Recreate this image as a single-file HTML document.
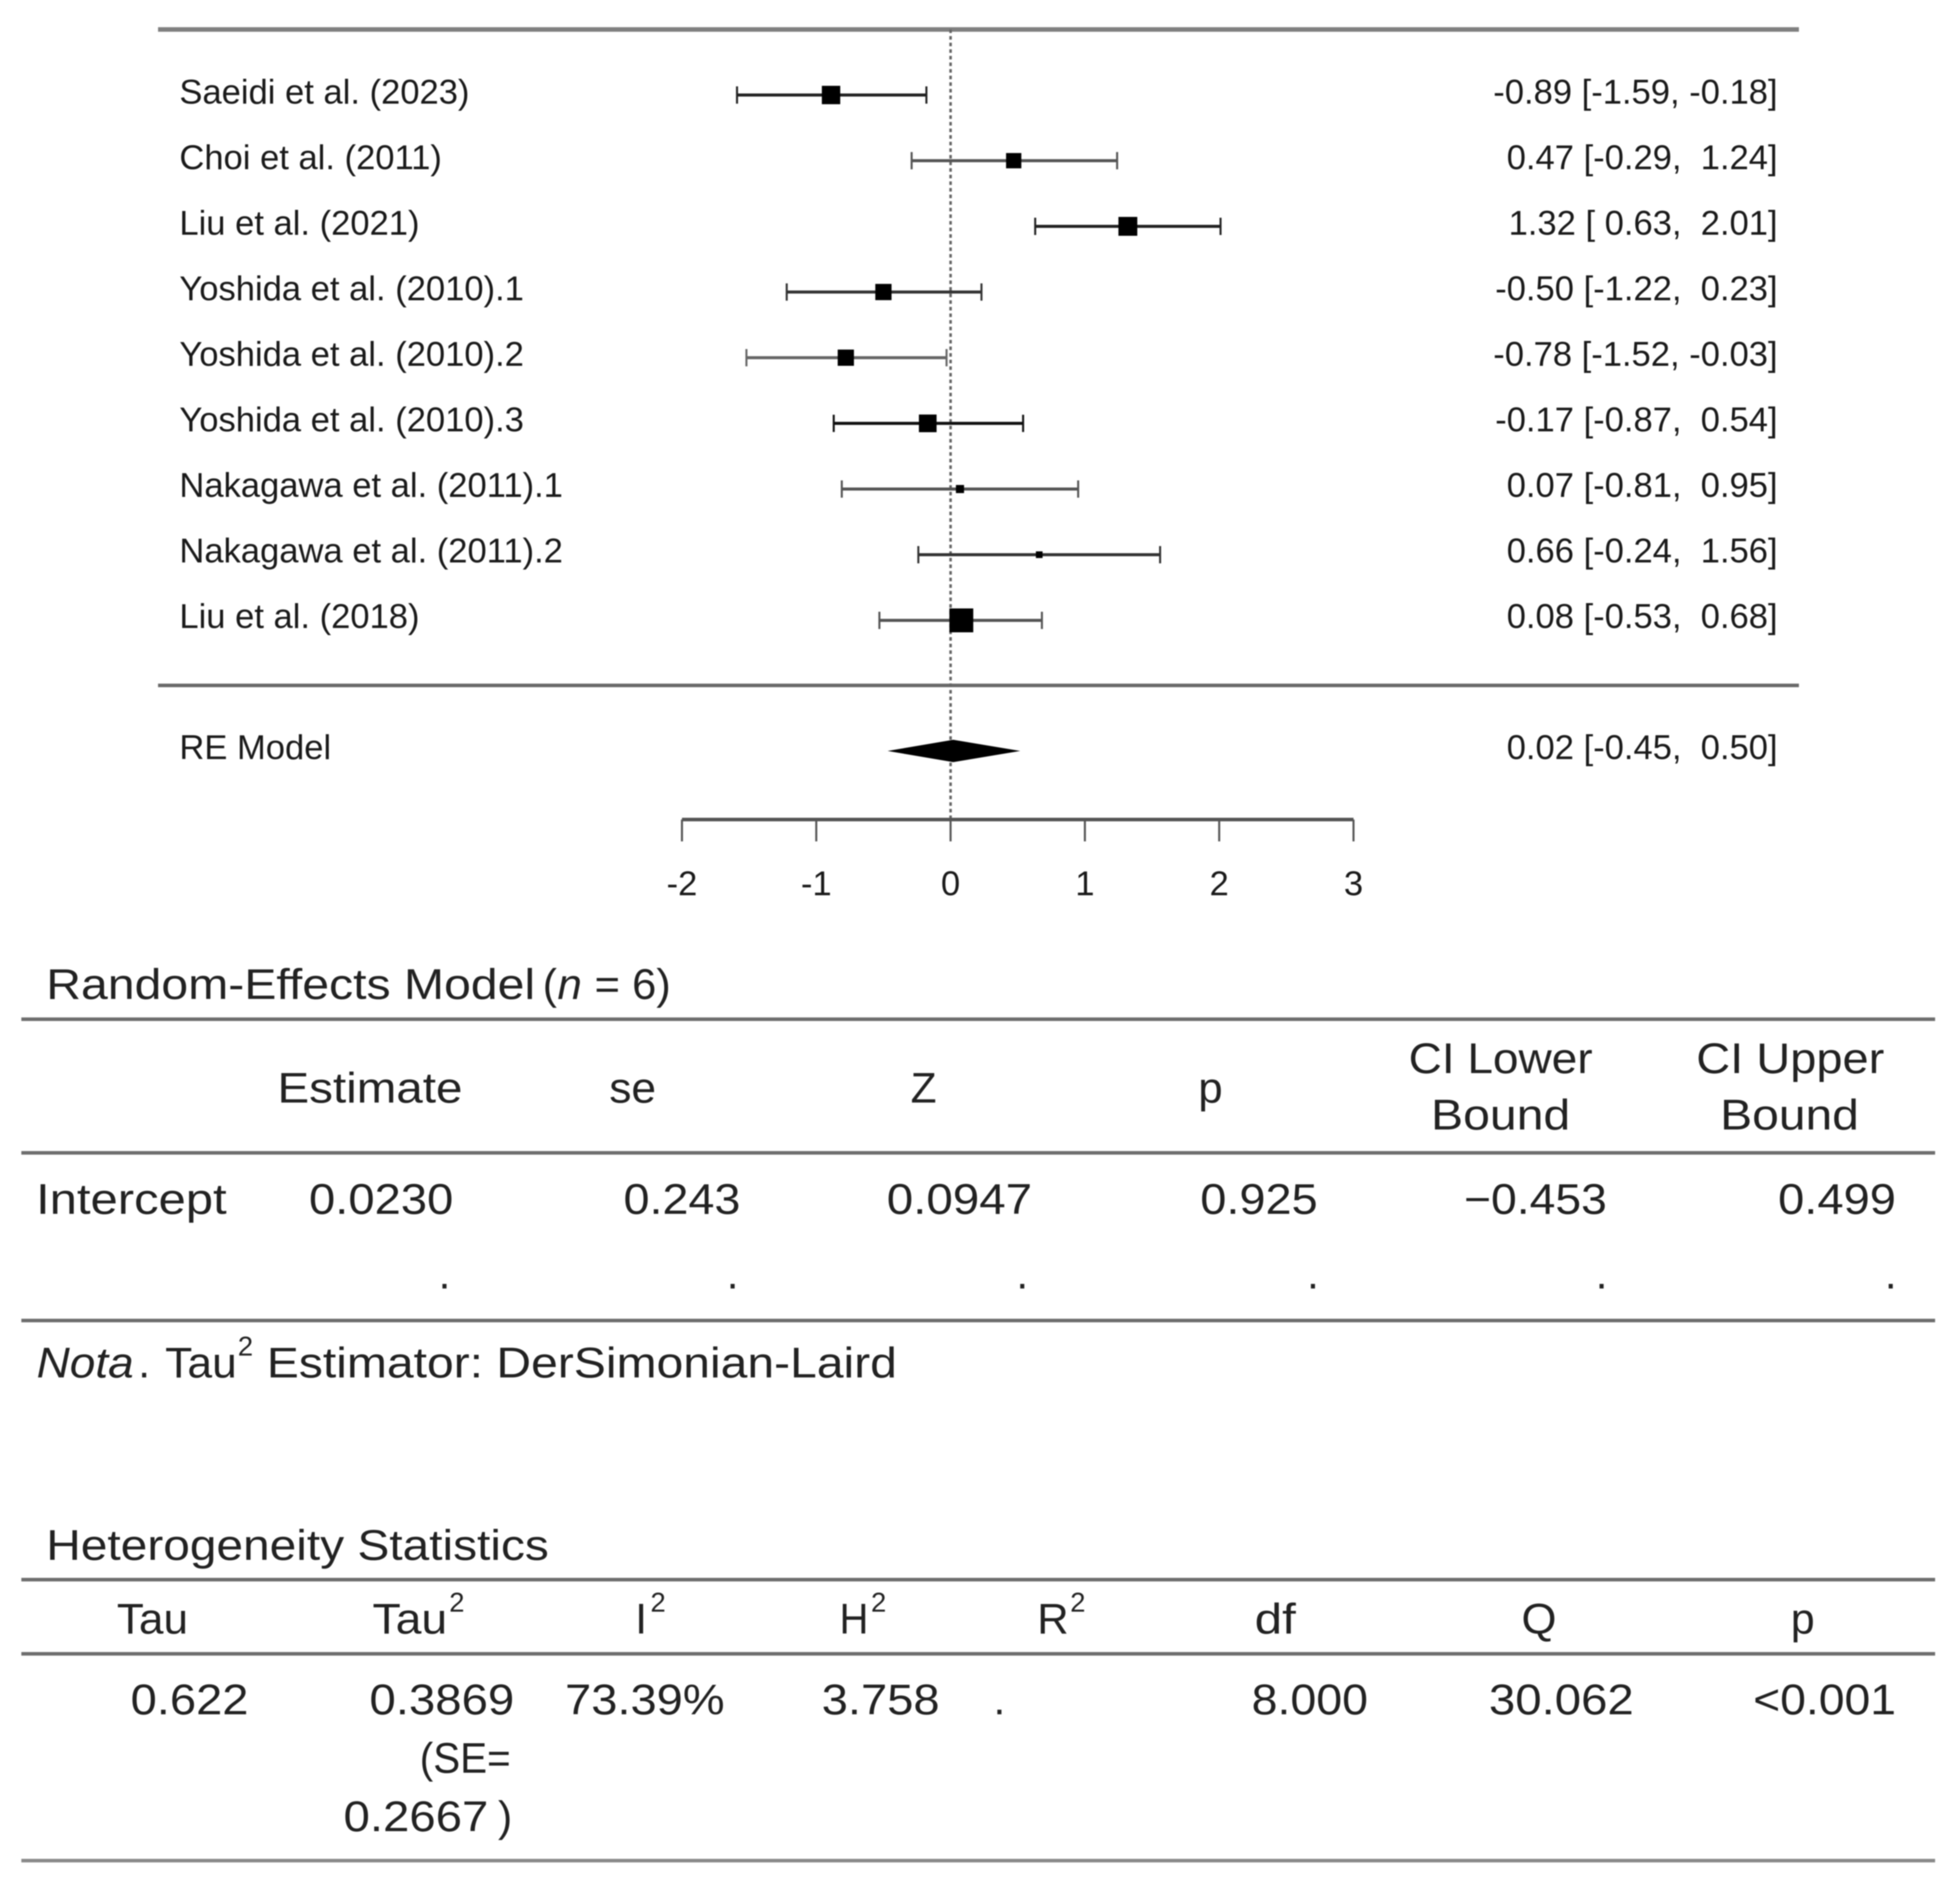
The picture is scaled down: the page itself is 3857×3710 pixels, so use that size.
<!DOCTYPE html>
<html lang="en">
<head>
<meta charset="utf-8">
<title>Forest plot with random-effects tables</title>
<style>
html,body{margin:0;padding:0;background:#fff;width:3857px;height:3710px;overflow:hidden}
svg{display:block;filter:blur(1px)}
text{font-family:"Liberation Sans",Arial,sans-serif;fill:#1c1c1c;white-space:pre}
.t{font-size:84px;fill:#222}
.s{font-size:54px;fill:#222}
.p{font-size:68px;fill:#1a1a1a}
.rule{stroke:#6e6e6e;stroke-width:7}
</style>
</head>
<body>
<svg id="figure" xmlns="http://www.w3.org/2000/svg" width="3857" height="3710" viewBox="0 0 3857 3710">
  <rect x="0" y="0" width="3857" height="3710" fill="#ffffff"/>
  <g id="forest"></g>

  <g>
    <text class="t" x="91" y="1966" textLength="962" lengthAdjust="spacingAndGlyphs">Random-Effects Model</text>
    <text class="t" x="1068" y="1966">(</text>
    <text class="t" x="1097" y="1966" font-style="italic" textLength="48" lengthAdjust="spacingAndGlyphs">n</text>
    <text class="t" x="1170" y="1966" textLength="150" lengthAdjust="spacingAndGlyphs">= 6)</text>
    <line class="rule" x1="42" x2="3808" y1="2006" y2="2006"/>
    <text class="t" x="546" y="2170" textLength="364" lengthAdjust="spacingAndGlyphs">Estimate</text>
    <text class="t" x="1199" y="2170" textLength="92" lengthAdjust="spacingAndGlyphs">se</text>
    <text class="t" x="1792" y="2170" textLength="51" lengthAdjust="spacingAndGlyphs">Z</text>
    <text class="t" x="2358" y="2170" textLength="48" lengthAdjust="spacingAndGlyphs">p</text>
    <text class="t" x="2772" y="2112" textLength="362" lengthAdjust="spacingAndGlyphs">CI Lower</text>
    <text class="t" x="2816" y="2223" textLength="274" lengthAdjust="spacingAndGlyphs">Bound</text>
    <text class="t" x="3338" y="2112" textLength="370" lengthAdjust="spacingAndGlyphs">CI Upper</text>
    <text class="t" x="3385" y="2223" textLength="273" lengthAdjust="spacingAndGlyphs">Bound</text>
    <line class="rule" x1="42" x2="3808" y1="2269" y2="2269"/>
    <text class="t" x="71" y="2389" textLength="375" lengthAdjust="spacingAndGlyphs">Intercept</text>
    <text class="t" x="608" y="2389" textLength="284" lengthAdjust="spacingAndGlyphs">0.0230</text>
    <text class="t" x="1227" y="2389" textLength="230" lengthAdjust="spacingAndGlyphs">0.243</text>
    <text class="t" x="1745" y="2389" textLength="286" lengthAdjust="spacingAndGlyphs">0.0947</text>
    <text class="t" x="2362" y="2389" textLength="231" lengthAdjust="spacingAndGlyphs">0.925</text>
    <text class="t" x="2881" y="2389" textLength="281" lengthAdjust="spacingAndGlyphs">−0.453</text>
    <text class="t" x="3499" y="2389" textLength="232" lengthAdjust="spacingAndGlyphs">0.499</text>
    <text class="t" x="863" y="2536">.</text>
    <text class="t" x="1430" y="2536">.</text>
    <text class="t" x="2000" y="2536">.</text>
    <text class="t" x="2572" y="2536">.</text>
    <text class="t" x="3140" y="2536">.</text>
    <text class="t" x="3709" y="2536">.</text>
    <line class="rule" x1="42" x2="3808" y1="2599" y2="2599"/>
    <text class="t" x="72" y="2711" font-style="italic" textLength="191" lengthAdjust="spacingAndGlyphs">Nota</text>
    <text class="t" x="272" y="2711">.</text>
    <text class="t" x="325" y="2711" textLength="141" lengthAdjust="spacingAndGlyphs">Tau</text>
    <text class="s" x="468" y="2668">2</text>
    <text class="t" x="525" y="2711" textLength="1240" lengthAdjust="spacingAndGlyphs">Estimator: DerSimonian-Laird</text>
  </g>

  <g>
    <text class="t" x="91" y="3070" textLength="989" lengthAdjust="spacingAndGlyphs">Heterogeneity Statistics</text>
    <line class="rule" x1="42" x2="3808" y1="3109" y2="3109"/>
    <text class="t" x="230" y="3215" textLength="140" lengthAdjust="spacingAndGlyphs">Tau</text>
    <text class="t" x="733" y="3215" textLength="147" lengthAdjust="spacingAndGlyphs">Tau</text>
    <text class="s" x="884" y="3172">2</text>
    <text class="t" x="1250" y="3215">I</text>
    <text class="s" x="1280" y="3172">2</text>
    <text class="t" x="1652" y="3215" textLength="57" lengthAdjust="spacingAndGlyphs">H</text>
    <text class="s" x="1714" y="3172">2</text>
    <text class="t" x="2041" y="3215" textLength="62" lengthAdjust="spacingAndGlyphs">R</text>
    <text class="s" x="2106" y="3172">2</text>
    <text class="t" x="2469" y="3215" textLength="81" lengthAdjust="spacingAndGlyphs">df</text>
    <text class="t" x="2994" y="3215" textLength="69" lengthAdjust="spacingAndGlyphs">Q</text>
    <text class="t" x="3524" y="3215" textLength="47" lengthAdjust="spacingAndGlyphs">p</text>
    <line class="rule" x1="42" x2="3808" y1="3255" y2="3255"/>
    <text class="t" x="257" y="3374" textLength="232" lengthAdjust="spacingAndGlyphs">0.622</text>
    <text class="t" x="727" y="3374" textLength="285" lengthAdjust="spacingAndGlyphs">0.3869</text>
    <text class="t" x="826" y="3489" textLength="179" lengthAdjust="spacingAndGlyphs">(SE=</text>
    <text class="t" x="676" y="3604" textLength="285" lengthAdjust="spacingAndGlyphs">0.2667</text>
    <text class="t" x="980" y="3604">)</text>
    <text class="t" x="1112" y="3374" textLength="314" lengthAdjust="spacingAndGlyphs">73.39%</text>
    <text class="t" x="1617" y="3374" textLength="232" lengthAdjust="spacingAndGlyphs">3.758</text>
    <text class="t" x="1955" y="3374">.</text>
    <text class="t" x="2463" y="3374" textLength="229" lengthAdjust="spacingAndGlyphs">8.000</text>
    <text class="t" x="2930" y="3374" textLength="285" lengthAdjust="spacingAndGlyphs">30.062</text>
    <text class="t" x="3450" y="3374" textLength="281" lengthAdjust="spacingAndGlyphs">&lt;0.001</text>
    <line class="rule" x1="42" x2="3808" y1="3662" y2="3662" style="stroke:#8a8a8a"/>
  </g>
</svg>
<script>
const studies = ["Saeidi et al. (2023)", "Choi et al. (2011)", "Liu et al. (2021)", "Yoshida et al. (2010).1", "Yoshida et al. (2010).2", "Yoshida et al. (2010).3", "Nakagawa et al. (2011).1", "Nakagawa et al. (2011).2", "Liu et al. (2018)"];
const estimates = [-0.89, 0.47, 1.32, -0.50, -0.78, -0.17, 0.07, 0.66, 0.08];
const lowers = [-1.59, -0.29, 0.63, -1.22, -1.52, -0.87, -0.81, -0.24, -0.53];
const uppers = [-0.18, 1.24, 2.01, 0.23, -0.03, 0.54, 0.95, 1.56, 0.68];
const relativeWeights = [0.77, 0.64, 0.79, 0.68, 0.68, 0.74, 0.34, 0.28, 1.0];
const axisTicks = [-2, -1, 0, 1, 2, 3];
const summaryLabel = "RE Model";
const summaryEstimate = [0.02];
const summaryLower = [-0.45];
const summaryUpper = [0.50];

const NS = "http://www.w3.org/2000/svg";
const forest = document.getElementById("forest");
const xScale = v => 1870.6 + 264.3 * v;
const rowY = i => 187 + 129.25 * i;
const labelY = i => 204 + 129 * i;
const markerSize = w => 47 * w;
const ink = ["#222", "#555", "#222", "#333", "#666", "#111", "#555", "#333", "#555"];

function make(tag, attrs, parent) {
  const el = document.createElementNS(NS, tag);
  Object.keys(attrs).forEach(k => el.setAttribute(k, attrs[k]));
  (parent || forest).appendChild(el);
  return el;
}
function fmt(v) { return v.toFixed(2); }
function pad(v) { const s = fmt(v); return v < 0 ? s : " " + s; }
function interval(e, l, u) { return fmt(e) + " [" + pad(l).replace(/^ /, l < 0 ? "" : " ") + ", " + pad(u) + "]"; }

const topRule = make("line", {x1: 311, x2: 3540, y1: 58, y2: 58, stroke: "#808080", "stroke-width": 9});



const midRule = make("line", {x1: 311, x2: 3540, y1: 1349, y2: 1349, stroke: "#6a6a6a", "stroke-width": 7});



const refLine = make("line", {x1: xScale(0), x2: xScale(0), y1: 58, y2: 1613, stroke: "#666", "stroke-width": 5, "stroke-dasharray": "7 6"});



studies.forEach((name, i) => {
  const y = rowY(i);
  const g = make("g", {});
  
  

  const label = make("text", {class: "p", x: 353, y: labelY(i)}, g);
  
  
  label.textContent = name;

  const ci = make("line", {x1: xScale(lowers[i]), x2: xScale(uppers[i]), y1: y, y2: y, stroke: ink[i], "stroke-width": 6}, g);
  
  

  const capL = make("line", {x1: xScale(lowers[i]), x2: xScale(lowers[i]), y1: y - 17, y2: y + 17, stroke: ink[i], "stroke-width": 4}, g);
  
  

  const capU = make("line", {x1: xScale(uppers[i]), x2: xScale(uppers[i]), y1: y - 17, y2: y + 17, stroke: ink[i], "stroke-width": 4}, g);
  
  

  const s = markerSize(relativeWeights[i]);
  const sq = make("rect", {x: xScale(estimates[i]) - s / 2, y: y - s / 2, width: s, height: s, fill: "#000"}, g);
  
  

  const val = make("text", {class: "p", x: 3498, y: labelY(i), "text-anchor": "end"}, g);
  
  
  val.textContent = interval(estimates[i], lowers[i], uppers[i]);
});

const sumY = 1478;
const sumLabel = make("text", {class: "p", x: 353, y: sumY + 16});


sumLabel.textContent = summaryLabel;

const diamond = make("polygon", {points: [
  (xScale(summaryLower[0]) - 5) + "," + sumY,
  xScale(summaryEstimate[0]) + "," + (sumY - 22),
  (xScale(summaryUpper[0]) + 5) + "," + sumY,
  xScale(summaryEstimate[0]) + "," + (sumY + 22)
].join(" "), fill: "#000"});



const sumVal = make("text", {class: "p", x: 3498, y: sumY + 16, "text-anchor": "end"});


sumVal.textContent = interval(summaryEstimate[0], summaryLower[0], summaryUpper[0]);

const axisY = 1613;
const axis = make("line", {x1: xScale(axisTicks[0]), x2: xScale(axisTicks[axisTicks.length - 1]), y1: axisY, y2: axisY, stroke: "#555", "stroke-width": 7});



axisTicks.forEach(t => {
  const tick = make("line", {x1: xScale(t), x2: xScale(t), y1: axisY, y2: axisY + 43, stroke: "#555", "stroke-width": 4});
  
  

  const lab = make("text", {class: "p", x: xScale(t), y: 1762, "text-anchor": "middle"});
  
  
  lab.textContent = String(t);
});
</script>
</body>
</html>
